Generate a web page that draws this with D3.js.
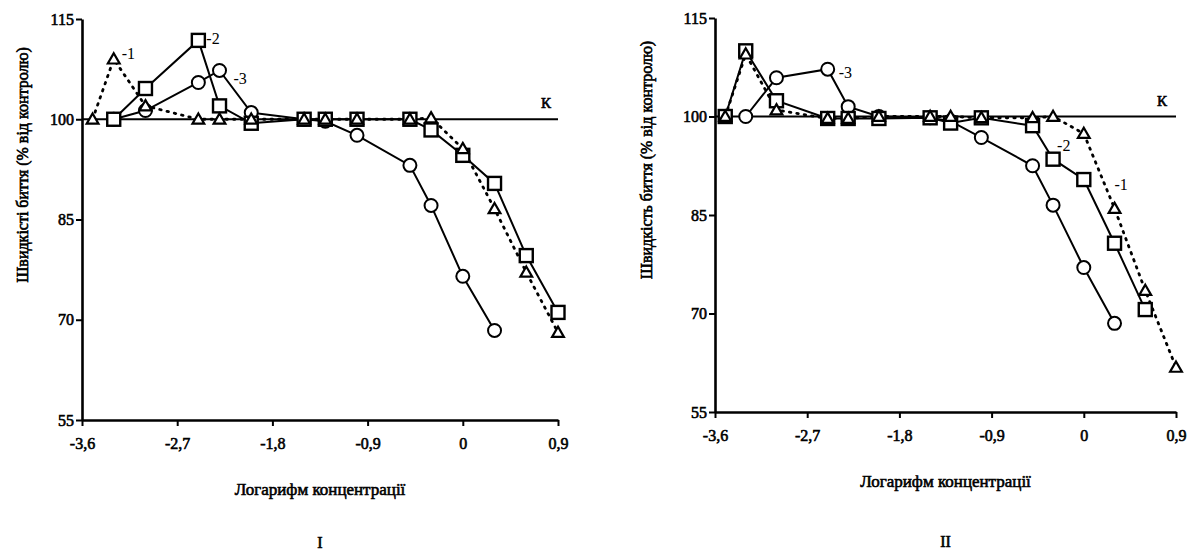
<!DOCTYPE html>
<html lang="en">
<head>
  <meta charset="utf-8">
  <script src="https://d3js.org/d3.v7.min.js"></script>
  <style>
    body { margin: 0; background: #fff; }
    text { font-family: "Liberation Serif", "Times New Roman", serif; }
    .bold { stroke: #000; stroke-width: 0.6px; }
  </style>
</head>
<body>
  <div id="my_dataviz"></div>
  <script>

    // log concentration points (shared by both panels)
    const logConc = [-3.5, -3.3, -3.0, -2.5, -2.3, -2.0, -1.5, -1.3, -1.0, -0.5, -0.3, 0, 0.3, 0.6, 0.9];

    // panel I
    const tri1  = [100, 109, 102, 100, 100, 100, 100, 100, 100, 100, 100.2, 95.6, 86.6, 77.1, 68.1];
    const sq1   = [null, 100, 104.6, 111.8, 102, 99.4, 100, 100, 100, 100, 98.4, 94.6, 90.4, 79.6, 71.1];
    const circ1 = [null, 100, 101.3, 105.5, 107.3, 101, 100, 99.7, 97.6, 93.1, 87.1, 76.5, 68.4, null, null];

    // panel II
    const tri2  = [100, 109.5, 101, 99.7, 99.7, 100, 100, 100, 99.8, 99.8, 100, 97.4, 86, 73.5, 61.8];
    const sq2   = [100, 110, 102.4, 99.7, 99.7, 99.7, 99.8, 99, 99.8, 98.6, 93.5, 90.4, 80.7, 70.6, null];
    const circ2 = [null, 100, 105.9, 107.2, 101.5, 100, 99.8, 99.3, 96.8, 92.5, 86.5, 77, 68.5, null, null];

    const xTicks = [-3.6, -2.7, -1.8, -0.9, 0, 0.9];
    const yTicks = [55, 70, 85, 100, 115];
    const control = 100;

    const svg = d3.select("#my_dataviz")
      .append("svg")
        .attr("width", 1203)
        .attr("height", 553);

    function drawPanel(p) {
      const x = d3.scaleLinear().domain([-3.6, 0.9]).range([p.left, p.right]);
      const y = d3.scaleLinear().domain([55, 115]).range([p.bottom, p.top]);
      const g = svg.append("g");

      // axes
      const xAxis = g.append("g")
        .attr("transform", `translate(0, ${p.bottom})`)
        .call(d3.axisBottom(x).tickValues(xTicks).tickSize(6).tickSizeOuter(0)
          .tickFormat(d => String(d).replace(".", ",")));
      const yAxis = g.append("g")
        .attr("transform", `translate(${p.left}, 0)`)
        .call(d3.axisLeft(y).tickValues(yTicks).tickSize(6).tickSizeOuter(0));
      [xAxis, yAxis].forEach(a => {
        a.attr("font-family", null);
        a.select(".domain").attr("stroke-width", 2.6);
        a.selectAll(".tick line").attr("stroke-width", 2);
        a.selectAll("text")
          .attr("class", "bold")
          .style("font-size", "16px")
          .attr("fill", "#000");
      });
      xAxis.selectAll("text").attr("dy", "1.25em");
      yAxis.selectAll("text").attr("x", -8);

      // control line
      g.append("line")
        .attr("x1", x(-3.6)).attr("x2", x(0.9))
        .attr("y1", y(control)).attr("y2", y(control))
        .attr("stroke", "#000").attr("stroke-width", 2.2);
      g.append("text")
        .attr("x", p.kx).attr("y", y(control) - 11)
        .attr("class", "bold")
        .style("font-size", "15px")
        .text("К");

      const line = d3.line()
        .defined(d => d[1] != null)
        .x(d => x(d[0])).y(d => y(d[1]));
      const pts = arr => logConc.map((c, i) => [c, arr[i]]);

      // lines
      g.append("path").datum(pts(p.circ)).attr("d", line)
        .attr("fill", "none").attr("stroke", "#000").attr("stroke-width", 2);
      g.append("path").datum(pts(p.sq)).attr("d", line)
        .attr("fill", "none").attr("stroke", "#000").attr("stroke-width", 2);
      g.append("path").datum(pts(p.tri)).attr("d", line)
        .attr("fill", "none").attr("stroke", "#000").attr("stroke-width", 2.8)
        .attr("stroke-dasharray", "1.5,6").attr("stroke-linecap", "round");

      // markers
      g.selectAll(".circ").data(pts(p.circ).filter(d => d[1] != null)).join("circle")
        .attr("cx", d => x(d[0])).attr("cy", d => y(d[1])).attr("r", 6.5)
        .attr("fill", "#fff").attr("stroke", "#000").attr("stroke-width", 2);
      g.selectAll(".sq").data(pts(p.sq).filter(d => d[1] != null)).join("rect")
        .attr("x", d => x(d[0]) - 6.5).attr("y", d => y(d[1]) - 6.5)
        .attr("width", 13).attr("height", 13)
        .attr("fill", "#fff").attr("stroke", "#000").attr("stroke-width", 2.4);
      g.selectAll(".tri").data(pts(p.tri).filter(d => d[1] != null)).join("path")
        .attr("d", d3.symbol().type(d3.symbolTriangle).size(60))
        .attr("transform", d => `translate(${x(d[0])},${y(d[1]) + 1})`)
        .attr("fill", "#fff").attr("stroke", "#000").attr("stroke-width", 2.2);

      // series labels
      p.labels.forEach(l => {
        g.append("text")
          .attr("x", x(l.at)).attr("y", y(l.v))
          .attr("dx", l.dx).attr("dy", l.dy)
          .style("font-size", "16px")
          .text(l.t);
      });

      // axis titles
      g.append("text")
        .attr("transform", "rotate(-90)")
        .attr("x", -p.ylabelY)
        .attr("y", p.ylabelX)
        .attr("text-anchor", "middle")
        .attr("class", "bold")
        .style("font-size", "16px")
        .text(p.ylabel);
      g.append("text")
        .attr("x", (p.left + p.right) / 2)
        .attr("y", p.bottom + 75)
        .attr("text-anchor", "middle")
        .attr("class", "bold")
        .style("font-size", "17px")
        .text("Логарифм концентрації");
      g.append("text")
        .attr("x", (p.left + p.right) / 2)
        .attr("y", p.name === "I" ? 548 : 547)
        .attr("text-anchor", "middle")
        .attr("class", "bold")
        .style("font-size", "16px")
        .text(p.name);
    }

    drawPanel({
      left: 82, right: 558, top: 19, bottom: 420,
      tri: tri1, sq: sq1, circ: circ1, kx: 541,
      ylabel: "Швидкісті биття (% від контролю)", ylabelX: 28, ylabelY: 165,
      name: "I",
      labels: [
        {t: "-1", at: -3.3, v: 109, dx: 8, dy: 0},
        {t: "-2", at: -2.5, v: 111.8, dx: 8, dy: 4},
        {t: "-3", at: -2.3, v: 107.3, dx: 14, dy: 14}
      ]
    });

    drawPanel({
      left: 715, right: 1176, top: 18, bottom: 412,
      tri: tri2, sq: sq2, circ: circ2, kx: 1157,
      ylabel: "Швидкість биття (% від контролю)", ylabelX: 652, ylabelY: 160,
      name: "II",
      labels: [
        {t: "-3", at: -2.5, v: 107.2, dx: 11, dy: 9},
        {t: "-2", at: -0.3, v: 93.5, dx: 4, dy: -8},
        {t: "-1", at: 0.3, v: 86, dx: 0, dy: -18}
      ]
    });
  </script>
</body>
</html>
